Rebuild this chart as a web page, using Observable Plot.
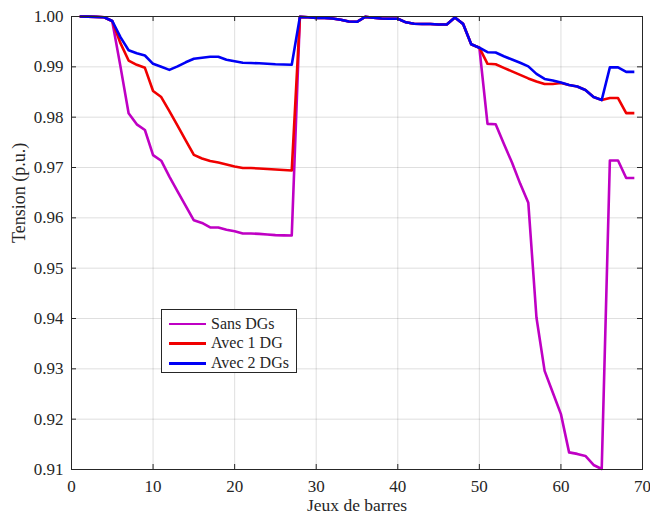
<!DOCTYPE html>
<html>
<head>
<meta charset="utf-8">
<script src="https://cdn.jsdelivr.net/npm/d3@7"></script>
<script src="https://cdn.jsdelivr.net/npm/@observablehq/plot@0.6"></script>
<style>
  body { margin: 0; background: #fff; }
  #wrap { position: relative; width: 650px; height: 519px; }
  #wrap svg, #wrap svg text { font-family: "Liberation Serif", "Times New Roman", serif !important; }
  #legend { position: absolute; left: 161px; top: 309px; width: 136px; height: 64px;
    border: 1px solid #262626; background: #fff; box-sizing: border-box;
    font-family: "Liberation Serif", "Times New Roman", serif; font-size: 16px; color: #262626; }
  .row { position: absolute; left: 0; height: 20px; width: 100%; }
  .sw { position: absolute; left: 7px; width: 37px; height: 2.5px; top: 9px; }
  .lb { position: absolute; left: 49px; top: 0; line-height: 20px; white-space: nowrap; }
</style>
</head>
<body>
<div id="wrap"></div>
<script>
// Bus index (Jeux de barres)
const bus = d3.range(1, 70);

// Tension (p.u.) — Sans DGs
const sansDG = [
  1.0000, 0.99997, 0.99993, 0.99984, 0.99902, 0.99009, 0.98079, 0.97858, 0.97745, 0.97245,
  0.97135, 0.96819, 0.96526, 0.96237, 0.95951, 0.95898, 0.95809, 0.95808, 0.95763, 0.95735,
  0.95689, 0.95688, 0.95682, 0.95670, 0.95657, 0.95652, 0.95650, 0.99993, 0.99985, 0.99973,
  0.99971, 0.99961, 0.99935, 0.99901, 0.99895, 0.99992, 0.99975, 0.99959, 0.99954, 0.99954,
  0.99884, 0.99855, 0.99851, 0.99850, 0.99841, 0.99840, 0.99979, 0.99854, 0.99450, 0.99380,
  0.97866, 0.97860, 0.97470, 0.97100, 0.96680, 0.96300, 0.94020, 0.92960, 0.92530, 0.92100,
  0.91340, 0.91310, 0.91270, 0.91090, 0.91010, 0.97140, 0.97140, 0.96790, 0.96790
];

// Tension (p.u.) — Avec 1 DG
const avec1DG = [
  1.0000, 0.99997, 0.99993, 0.99984, 0.99910, 0.99470, 0.99125, 0.99040, 0.98980, 0.98520,
  0.98400, 0.98120, 0.97830, 0.97540, 0.97250, 0.97180, 0.97130, 0.97100, 0.97060, 0.97020,
  0.96990, 0.96990, 0.96980, 0.96970, 0.96960, 0.96950, 0.96940, 0.99993, 0.99985, 0.99973,
  0.99971, 0.99961, 0.99935, 0.99901, 0.99895, 0.99992, 0.99975, 0.99959, 0.99954, 0.99954,
  0.99884, 0.99855, 0.99851, 0.99850, 0.99841, 0.99840, 0.99979, 0.99854, 0.99450, 0.99380,
  0.99060, 0.99050, 0.98980, 0.98910, 0.98840, 0.98770, 0.98710, 0.98660, 0.98660, 0.98680,
  0.98640, 0.98610, 0.98540, 0.98400, 0.98340, 0.98380, 0.98380, 0.98080, 0.98080
];

// Tension (p.u.) — Avec 2 DGs
const avec2DG = [
  1.0000, 0.99997, 0.99993, 0.99984, 0.99910, 0.99590, 0.99330, 0.99270, 0.99225, 0.99060,
  0.99000, 0.98940, 0.99010, 0.99090, 0.99160, 0.99180, 0.99200, 0.99200, 0.99140, 0.99110,
  0.99080, 0.99075, 0.99070, 0.99060, 0.99050, 0.99046, 0.99040, 0.99993, 0.99985, 0.99973,
  0.99971, 0.99961, 0.99935, 0.99901, 0.99895, 0.99992, 0.99975, 0.99959, 0.99954, 0.99954,
  0.99884, 0.99855, 0.99851, 0.99850, 0.99841, 0.99840, 0.99979, 0.99854, 0.99450, 0.99380,
  0.99290, 0.99285, 0.99210, 0.99145, 0.99080, 0.99010, 0.98860, 0.98760, 0.98730, 0.98690,
  0.98640, 0.98610, 0.98540, 0.98400, 0.98340, 0.98990, 0.98990, 0.98900, 0.98900
];

const seriesNames = ["Sans DGs", "Avec 1 DG", "Avec 2 DGs"];
const seriesColors = ["#bf00c4", "#f00000", "#0000f5"];
const xTicks = [0, 10, 20, 30, 40, 50, 60, 70];
const yTicks = [0.91, 0.92, 0.93, 0.94, 0.95, 0.96, 0.97, 0.98, 0.99, 1.00];

const W = 650, H = 519, mL = 71, mR = 8, mT = 16, mB = 50;
const innerW = W - mL - mR, innerH = H - mT - mB;
const TL = 5;
const axisColor = "#262626";
const font = "'Liberation Serif', 'Times New Roman', serif";

const allSeries = [sansDG, avec1DG, avec2DG];
const lineMarks = allSeries.map((vals, i) =>
  Plot.line(bus.map((b, j) => ({bus: b, v: vals[j]})), {
    x: "bus", y: "v", stroke: seriesColors[i], strokeWidth: 2.6,
    strokeLinejoin: "round", strokeLinecap: "butt"
  })
);

const chart = Plot.plot({
  width: W, height: H,
  marginLeft: mL, marginRight: mR, marginTop: mT, marginBottom: mB,
  style: {fontFamily: font, background: "#fff", color: axisColor},
  x: {domain: [0, 70]},
  y: {domain: [0.91, 1.0]},
  marks: [
    Plot.gridX(xTicks, {stroke: axisColor, strokeOpacity: 0.15}),
    Plot.gridY(yTicks, {stroke: axisColor, strokeOpacity: 0.15}),
    ...lineMarks,
    Plot.tickX(xTicks, {x: d => d, insetTop: innerH - TL, stroke: axisColor}),
    Plot.tickX(xTicks, {x: d => d, insetBottom: innerH - TL, stroke: axisColor}),
    Plot.tickY(yTicks, {y: d => d, insetRight: innerW - TL, stroke: axisColor}),
    Plot.tickY(yTicks, {y: d => d, insetLeft: innerW - TL, stroke: axisColor}),
    Plot.frame({stroke: axisColor, strokeWidth: 1}),
    Plot.axisX(xTicks, {tickSize: 0, tickPadding: 10, label: null, fontSize: 17, fontFamily: font, fill: axisColor}),
    Plot.axisY(yTicks, {tickSize: 0, tickPadding: 8, label: null, fontSize: 17, fontFamily: font, fill: axisColor,
      tickFormat: d => d.toFixed(2)}),
    Plot.text(["Jeux de barres"], {text: d => d, frameAnchor: "bottom", dy: 41, fontSize: 17.5, fontFamily: font, fill: axisColor}),
    Plot.text(["Tension (p.u.)"], {text: d => d, frameAnchor: "left", dx: -52, rotate: -90, fontSize: 18, fontFamily: font, fill: axisColor})
  ]
});

const wrap = document.getElementById("wrap");
wrap.appendChild(chart);

const legend = document.createElement("div");
legend.id = "legend";
seriesNames.forEach((name, i) => {
  const row = document.createElement("div");
  row.className = "row";
  row.style.top = (3.5 + i * 19.8) + "px";
  const sw = document.createElement("div");
  sw.className = "sw";
  sw.style.background = seriesColors[i];
  const lb = document.createElement("div");
  lb.className = "lb";
  lb.textContent = name;
  row.appendChild(sw); row.appendChild(lb);
  legend.appendChild(row);
});
wrap.appendChild(legend);
</script>
</body>
</html>
